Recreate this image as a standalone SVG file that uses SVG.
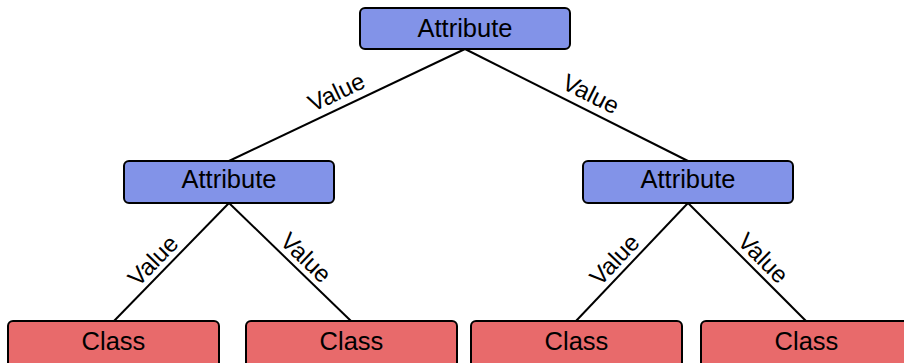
<svg xmlns="http://www.w3.org/2000/svg" width="904" height="363" viewBox="0 0 904 363">
<style>
.attr rect{fill:#8293e8;stroke:#000;stroke-width:2}
.cls rect{fill:#e86a6b;stroke:#000;stroke-width:2}
text{font-family:"Liberation Sans",Arial,sans-serif;font-size:25.5px;fill:#000;text-anchor:middle}
.lbl{font-size:24px}
#edges line{stroke:#000;stroke-width:2}
</style>
<rect width="904" height="363" fill="#fff"/>
<g id="edges">
<line x1="465" y1="49" x2="229" y2="161"/>
<line x1="465" y1="49" x2="688" y2="161"/>
<line x1="229" y1="203" x2="114" y2="321"/>
<line x1="229" y1="203" x2="351" y2="321"/>
<line x1="688" y1="203" x2="576" y2="321"/>
<line x1="688" y1="203" x2="806" y2="321"/>
<text class="lbl" transform="translate(343.3,106.7) rotate(-25.4)" y="-8">Value</text>
<text class="lbl" transform="translate(583.6,108.5) rotate(26.7)" y="-8">Value</text>
<text class="lbl" transform="translate(163.2,270.5) rotate(-45.7)" y="-6">Value</text>
<text class="lbl" transform="translate(296,267.8) rotate(44)" y="-6">Value</text>
<text class="lbl" transform="translate(624.8,269.5) rotate(-46.5)" y="-6">Value</text>
<text class="lbl" transform="translate(753,268) rotate(45)" y="-6">Value</text>
</g>
<g id="n_root" class="attr"><rect x="360" y="8" width="210" height="41" rx="5"/><text x="465" y="36.5">Attribute</text></g>
<g id="n_left" class="attr"><rect x="124" y="161" width="210" height="42" rx="5"/><text x="229" y="188">Attribute</text></g>
<g id="n_right" class="attr"><rect x="583" y="161" width="210" height="42" rx="5"/><text x="688" y="188">Attribute</text></g>
<g id="c1" class="cls"><rect x="8" y="321" width="211" height="50" rx="5"/><text x="113.5" y="349.5">Class</text></g>
<g id="c2" class="cls"><rect x="246" y="321" width="211" height="50" rx="5"/><text x="351.5" y="349.5">Class</text></g>
<g id="c3" class="cls"><rect x="471" y="321" width="211" height="50" rx="5"/><text x="576.5" y="349.5">Class</text></g>
<g id="c4" class="cls"><rect x="701" y="321" width="211" height="50" rx="5"/><text x="806.5" y="349.5">Class</text></g>
</svg>
